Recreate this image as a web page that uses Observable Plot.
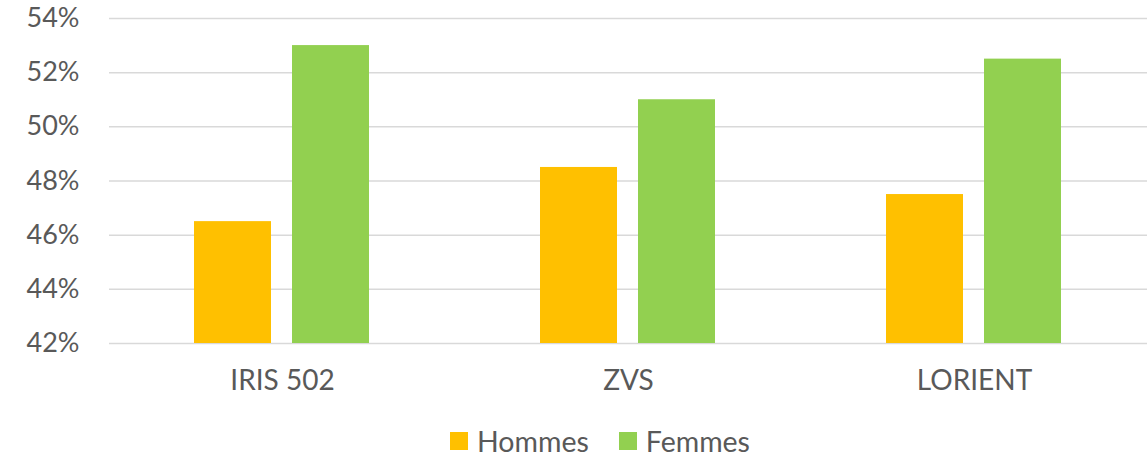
<!DOCTYPE html>
<html>
<head>
<meta charset="utf-8">
<script src="https://cdn.jsdelivr.net/npm/d3@7"></script>
<script src="https://cdn.jsdelivr.net/npm/@observablehq/plot@0.6"></script>
<style>
  html, body { margin: 0; padding: 0; background: #fff; }
  body { width: 1147px; height: 456px; overflow: hidden; font-family: Lato, "Open Sans", sans-serif; }
  #chart svg { display: block; }
  #legend { display: flex; justify-content: center; align-items: center; font-size: 28.5px; line-height: 28px; height: 28px; color: #595959; margin-top: 17px; padding-left: 53px; }
  .item { display: inline-flex; align-items: center; margin: 0 15px; }
  .sw { width: 18px; height: 18px; margin-right: 9px; display: inline-block; }
</style>
</head>
<body>
<div id="chart"></div>
<div id="legend"></div>
<script>
const regions = ["IRIS 502", "ZVS", "LORIENT"];
const series = ["Hommes", "Femmes"];
const hommes = [46.5, 48.5, 47.5];
const femmes = [53, 51, 52.5];
const colors = ["#FFC000", "#92D050"];
const yTicks = [42, 44, 46, 48, 50, 52, 54];

const data = [];
regions.forEach((r, i) => {
  data.push({region: r, sex: series[0], value: hommes[i]});
  data.push({region: r, sex: series[1], value: femmes[i]});
});

const chart = Plot.plot({
  width: 1147,
  height: 410,
  marginTop: 18,
  marginBottom: 67,
  marginLeft: 108,
  marginRight: 0,
  style: {fontFamily: "Lato, 'Open Sans', sans-serif", fontSize: "27px", color: "#595959", background: "#fff"},
  fx: {domain: regions, padding: 0, label: null, axis: null},
  x: {domain: series, axis: null, paddingInner: 0.212, paddingOuter: 0.859},
  y: {domain: [42, 54], ticks: yTicks, tickFormat: d => d + "%", label: null, tickSize: 0, tickPadding: 30},
  color: {domain: series, range: colors},
  marks: [
    Plot.gridY(yTicks, {stroke: "#d9d9d9", strokeOpacity: 1, strokeWidth: 1.5}),
    Plot.barY(data, {fx: "region", x: "sex", y1: 42, y2: "value", fill: "sex"}),
    Plot.axisFx({domain: regions, anchor: "bottom", tickSize: 0, tickPadding: 27, label: null, fontSize: 28})
  ]
});
document.getElementById("chart").appendChild(chart);

const legend = d3.select("#legend");
series.forEach((s, i) => {
  const it = legend.append("span").attr("class", "item");
  it.append("span").attr("class", "sw").style("background", colors[i]);
  it.append("span").text(s);
});
</script>
</body>
</html>
